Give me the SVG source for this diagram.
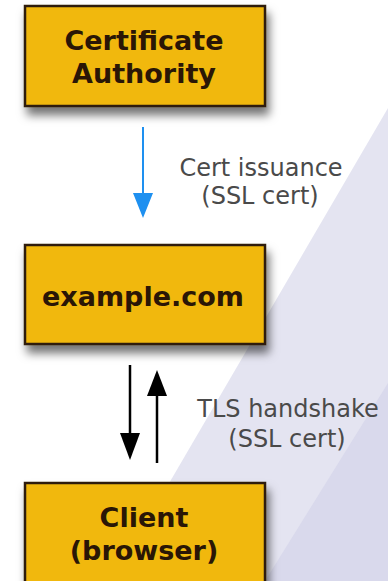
<svg xmlns="http://www.w3.org/2000/svg" width="388" height="581" viewBox="0 0 388 581">
<defs>
<style>
.box{fill:#f1b80e;stroke:#2e1c0c;stroke-width:2.5;filter:url(#sh)}
.bt{font-family:"DejaVu Sans",Verdana,sans-serif;font-weight:bold;font-size:27px;fill:#2a1606;text-anchor:middle}
.lbl{font-family:"DejaVu Sans",Verdana,sans-serif;font-size:24px;fill:#4a4a4a;text-anchor:middle}
.blk{stroke:#000;stroke-width:2.5;fill:none}
</style>
<filter id="sh" x="-20%" y="-20%" width="150%" height="160%">
<feDropShadow dx="3" dy="8" stdDeviation="5" flood-color="#000" flood-opacity="0.55"/>
</filter>
</defs>
<rect width="388" height="581" fill="#fff"/>
<polygon points="388,108 112,581 388,581" fill="#e4e4f1"/>
<polygon points="388,383 265,581 388,581" fill="#d9d9ec"/>
<g id="connectors">
<line x1="143" y1="127" x2="143" y2="200" stroke="#1e90f0" stroke-width="2"/>
<path d="M133,193 L153,193 L143,218 Z" fill="#1e90f0"/>
<line class="blk" x1="130" y1="365" x2="130" y2="440"/>
<path d="M120,433 L140,433 L130,460 Z" fill="#000"/>
<line class="blk" x1="157" y1="390" x2="157" y2="463"/>
<path d="M147,396 L167,396 L157,370 Z" fill="#000"/>
<text class="lbl" x="261" y="176">Cert issuance</text>
<text class="lbl" x="260" y="204">(SSL cert)</text>
<text class="lbl" x="288" y="417">TLS handshake</text>
<text class="lbl" x="287" y="447">(SSL cert)</text>
</g>
<g id="ca">
<rect class="box" x="25" y="6" width="240" height="100"/>
<text class="bt" x="144" y="50">Certificate</text>
<text class="bt" x="144" y="83">Authority</text>
</g>
<g id="example">
<rect class="box" x="25" y="245" width="240" height="99"/>
<text class="bt" x="143" y="306">example.com</text>
</g>
<g id="client">
<rect class="box" x="25" y="483" width="240" height="110"/>
<text class="bt" x="144" y="527">Client</text>
<text class="bt" x="144" y="560">(browser)</text>
</g>
</svg>
